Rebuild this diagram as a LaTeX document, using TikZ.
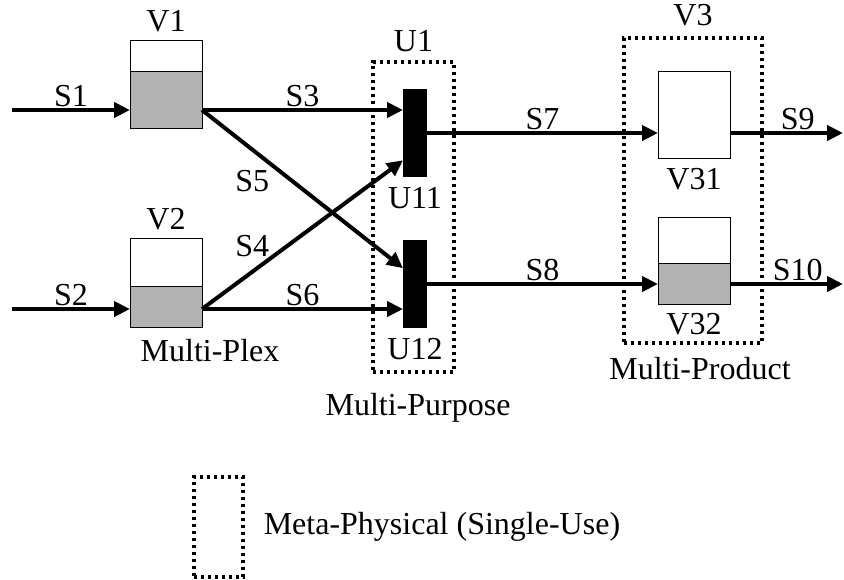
\documentclass[tikz,border=0pt]{standalone}
\usepackage{fontspec}
\setmainfont{Liberation Serif}
\usetikzlibrary{positioning, arrows.meta, calc}

\begin{document}
\begin{tikzpicture}[x=0.5pt, y=-0.5pt, font=\fontsize{16}{19}\selectfont,
    vessel/.style={rectangle, draw, line width=0.5pt, minimum width=36pt, minimum height=44pt, inner sep=0pt, outer sep=0pt},
    level/.style={path picture={\filldraw[fill=black!30, line width=0.5pt] (path picture bounding box.south west) rectangle ($(path picture bounding box.south east)!#1!(path picture bounding box.north east)$);}},
    unit/.style={rectangle, fill=black, minimum width=12pt, minimum height=44pt, inner sep=0pt, outer sep=0pt},
    group/.style={rectangle, draw, line width=1.7pt, dash pattern=on 1.7pt off 1.8pt, inner sep=0pt},
    stream/.style={-{Triangle[length=8pt, width=7.5pt]}, line width=2pt},
    tag/.style={above, inner sep=0.5pt}]
    \useasboundingbox (0,0) rectangle (844,579);

    % groups
    \node[group, minimum width=40.5pt, minimum height=155pt, label={[label distance=0.5pt]above:U1}] (u1) at (413.5,217) {};
    \node[group, minimum width=69pt, minimum height=152.5pt, label={[label distance=1.5pt]above:V3}] (v3) at (693,190.5) {};

    % vessels and units
    \node[vessel, level=0.64, label={[label distance=0.5pt]above:V1}] (v1) at (166,84) {};
    \node[vessel, level=0.46, minimum height=44.5pt, label={[label distance=0.5pt]above:V2}] (v2) at (166,282.5) {};
    \node[unit, label={[label distance=1.5pt]below:U11}] (u11) at (415,133) {};
    \node[unit, label={[label distance=1.5pt]below:U12}] (u12) at (415,284) {};
    \node[vessel, minimum height=43.5pt, label={[label distance=1.5pt]below:V31}] (v31) at (694,114.5) {};
    \node[vessel, level=0.46, minimum height=43.5pt, label={[label distance=1pt]below:V32}] (v32) at (694,260.5) {};

    \node (plex) at (210,351) {Multi-Plex};
    \node (purpose) at (418,408) {Multi-Purpose};
    \node (product) at (700,369) {Multi-Product};

    % legend
    \node[group, minimum width=24.5pt, minimum height=50pt] (key) at (218.5,527) {};
    \node[right=6pt of key] (keytext) {Meta-Physical (Single-Use)};

    % streams
    \coordinate (s1in) at (12,110);
    \coordinate (s2in) at (12,309);
    \coordinate (s9out) at (843,133);
    \coordinate (s10out) at (843,284);

    \draw[stream] (s1in) -- node[tag] {S1} (s1in -| v1.west);
    \draw[stream] (s2in) -- node[tag] {S2} (s2in -| v2.west);
    \draw[stream] (s1in -| v1.east) -- node[tag] {S3} (s1in -| u11.west);
    \draw[stream] (s1in -| v1.east) -- node[pos=0.25, below=6pt] {S5} ($(u12.north west)!0.32!(u12.south west)$);
    \draw[stream] (s2in -| v2.east) -- node[pos=0.25, above=3pt] {S4} ($(u11.north west)!0.81!(u11.south west)$);
    \draw[stream] (s2in -| v2.east) -- node[tag] {S6} (s2in -| u12.west);
    \draw[stream] (u11.east) -- node[tag] {S7} (u11.east -| v31.west);
    \draw[stream] (u12.east) -- node[tag] {S8} (u12.east -| v32.west);
    \draw[stream] (s9out -| v31.east) -- node[tag, pos=0.6] {S9} (s9out);
    \draw[stream] (s10out -| v32.east) -- node[tag, pos=0.6] {S10} (s10out);
\end{tikzpicture}
\end{document}
